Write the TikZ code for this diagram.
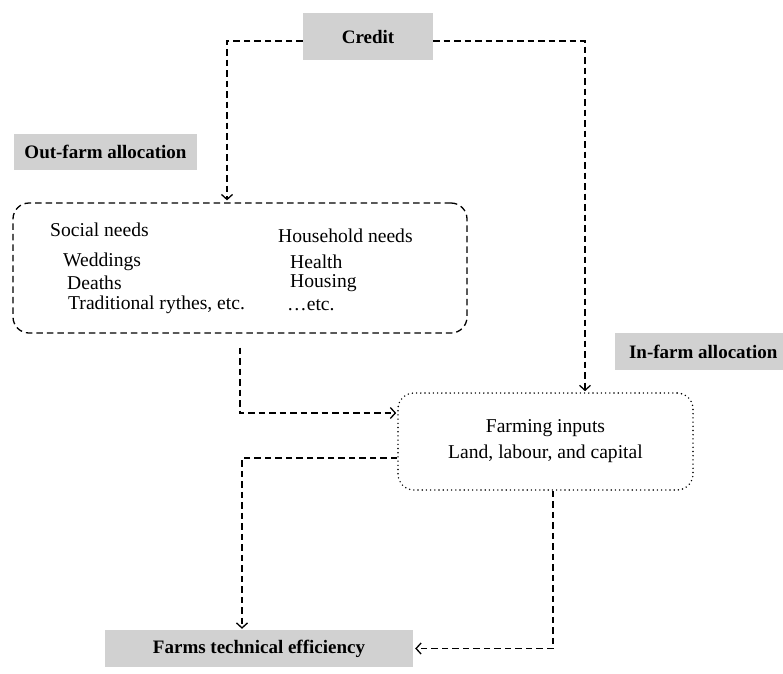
\documentclass[tikz,border=0pt]{standalone}
\usepackage{fontspec}
\setmainfont{Liberation Serif}
\usetikzlibrary{arrows.meta,positioning}
\tikzset{
  patch/.style={fill=black!18, inner sep=0pt, font=\fontsize{19}{21}\selectfont\bfseries},
  txt/.style={inner sep=0pt, anchor=west, font=\fontsize{19.6}{22}\selectfont},
  conn/.style={line width=1.3pt, dash pattern=on 6.5pt off 4pt, -{Straight Barb[length=5pt,width=11pt,line width=1.3pt]}},
  dashbox/.style={draw, line width=1.3pt, dash pattern=on 6.5pt off 4pt, rounded corners=16pt, inner sep=0pt},
  dotbox/.style={draw, line width=1.6pt, line cap=round, dash pattern=on 0pt off 4.2pt, rounded corners=16pt, inner sep=0pt, align=center, font=\fontsize{19.6}{26}\selectfont}
}
\begin{document}
\begin{tikzpicture}[x=1pt,y=-1pt]
\useasboundingbox (0,0) rectangle (783,673);
% labels
\node[patch, minimum width=130pt, minimum height=47pt] (credit) at (368,36.5) {Credit};
\node[patch, minimum width=183pt, minimum height=36pt] (outfarm) at (105.5,152) {Out-farm allocation};
\node[patch, minimum width=168pt, minimum height=37pt, anchor=west] (infarm) at (615,351.5) {\hspace*{8pt}In-farm allocation};
\node[patch, minimum width=308pt, minimum height=37pt] (eff) at (259,648.5) {Farms technical efficiency};
% boxes
\node[dashbox, minimum width=454pt, minimum height=130pt] (social) at (240,268) {};
\node[dotbox, minimum width=295pt, minimum height=97pt] (farm) at (545.5,441.5) {Farming inputs\\Land, labour, and capital};
% social box texts
\node[txt] (sn) at (50,230) {Social needs};
\node[txt] (we) at (63,262) {Weddings};
\node[txt] (de) at (67,283) {Deaths};
\node[txt] (tr) at (68,305) {Traditional rythes, etc.};
\node[txt] (hn) at (278,236) {Household needs};
\node[txt] (he) at (290,262) {Health};
\node[txt] (ho) at (290,283) {Housing};
\node[txt] (et) at (287,305) {\ldots etc.};
% helper coordinates
\coordinate (cl) at (227,41);
\coordinate (cr) at (585,41);
\coordinate (sx) at (240,413);
\coordinate (fx) at (242,458);
\coordinate (bx) at (553,650);
% connectors
\draw[conn, shorten >=2pt] (credit.west |- cl) -| (social.north -| cl);
\draw[conn, shorten >=1pt] (credit.east |- cr) -| (farm.north -| cr);
\draw[conn, shorten <=14pt, shorten >=1pt] (social.south -| sx) |- (farm.west |- sx);
\draw[conn, shorten >=1pt] (farm.west |- fx) -| (eff.north -| fx);
\draw[conn, shorten >=2pt] (farm.south -| bx) |- (eff.east);
\end{tikzpicture}
\end{document}
